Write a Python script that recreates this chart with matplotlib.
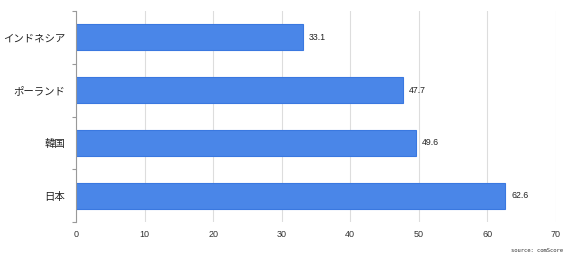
import numpy as np
import matplotlib.pyplot as plt

# data
countries = ["インドネシア", "ポーランド", "韓国", "日本"]
values = [33.1, 47.7, 49.6, 62.6]
x_ticks = [0, 10, 20, 30, 40, 50, 60, 70]

plt.rcParams['font.family'] = ['Noto Sans CJK JP', 'DejaVu Sans']

fig = plt.figure(figsize=(5.7, 2.58), dpi=100)
ax = fig.add_axes([76 / 570, 1 - 222 / 258, 480 / 570, 211 / 258])

y_pos = np.arange(len(countries))
ax.barh(y_pos, values, height=0.49, color='#4a86e8', edgecolor='#3a78e0',
        linewidth=0.8, zorder=3)
for y, v in zip(y_pos, values):
    ax.text(v + 0.9, y, "{:.1f}".format(v), va='center', ha='left',
            fontsize=6.3, color='#222222', family=['Liberation Sans'])

ax.set_xlim(0, 70)
ax.set_ylim(len(countries) - 0.5, -0.5)
ax.set_xticks(x_ticks)
ax.set_xticklabels([str(t) for t in x_ticks], fontsize=6.5, color='#333333',
                   family=['Liberation Sans'])
ax.set_yticks(y_pos)
ax.set_yticklabels(countries, fontsize=7.5, color='#222222')
ax.tick_params(axis='y', which='major', length=0, pad=8)
ax.set_yticks(np.arange(-0.5, len(countries), 1.0), minor=True)
ax.tick_params(axis='y', which='minor', length=3, color='#999999', width=0.8)
ax.tick_params(axis='x', length=0, pad=6)

ax.grid(axis='x', color='#dddddd', linewidth=0.8, zorder=0)
for side in ['top', 'right', 'bottom']:
    ax.spines[side].set_visible(False)
ax.spines['left'].set_color('#999999')
ax.spines['left'].set_linewidth(0.8)
ax.spines['left'].set_zorder(4)

fig.text(563 / 570, 1 - 251 / 258, "source: comScore", fontsize=4,
         ha='right', va='center', color='#333333', family=['DejaVu Sans Mono'])

fig.savefig("out.png", dpi=100)
